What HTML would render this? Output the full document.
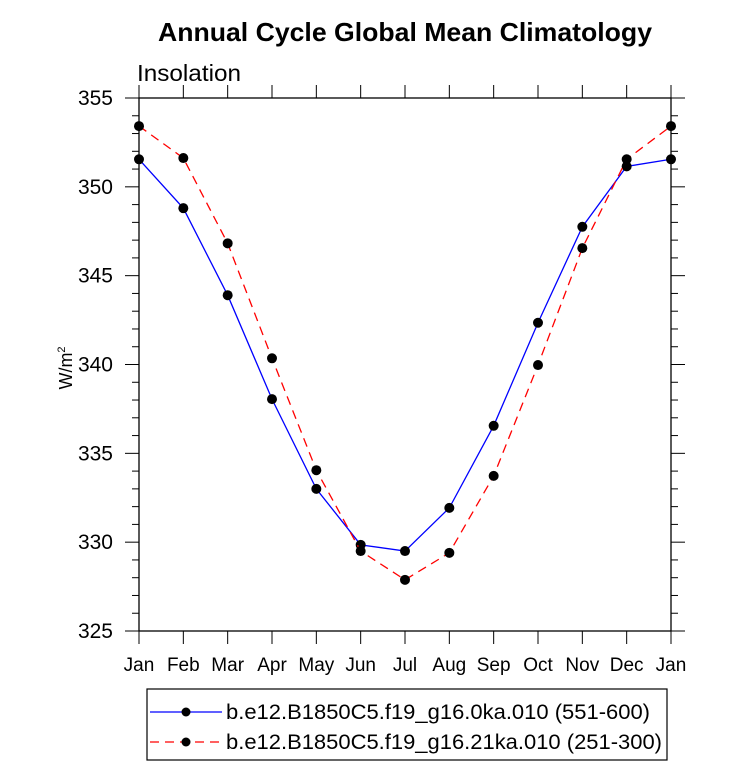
<!DOCTYPE html>
<html><head><meta charset="utf-8"><style>
body{margin:0;background:#fff;}
svg text{font-family:"Liberation Sans",Arial,sans-serif;}
</style></head><body>
<svg width="733" height="769" viewBox="0 0 733 769">
<text x="405" y="41" font-size="26" font-weight="bold" text-anchor="middle" textLength="494" lengthAdjust="spacingAndGlyphs">Annual Cycle Global Mean Climatology</text>
<text x="137" y="81" font-size="23" textLength="104" lengthAdjust="spacingAndGlyphs">Insolation</text>
<text transform="translate(72,368) rotate(-90)" font-size="18" text-anchor="middle">W/m<tspan font-size="11" dy="-7">2</tspan></text>
<g id="axes"></g>
<g id="series"></g>
<g>
<rect x="147" y="689" width="520" height="71" fill="#fff" stroke="#000" stroke-width="1.2"/>
<g>
<line x1="150" y1="712" x2="222" y2="712" stroke="#00f" stroke-width="1.3"/>
<circle cx="186" cy="712" r="4.5" fill="#000"/>
<text x="226" y="719" font-size="21" textLength="424" lengthAdjust="spacingAndGlyphs">b.e12.B1850C5.f19_g16.0ka.010 (551-600)</text>
</g>
<g>
<line x1="150" y1="742" x2="222" y2="742" stroke="#f00" stroke-width="1.3" stroke-dasharray="9,6"/>
<circle cx="186" cy="742" r="4.5" fill="#000"/>
<text x="226" y="749" font-size="21" textLength="436" lengthAdjust="spacingAndGlyphs">b.e12.B1850C5.f19_g16.21ka.010 (251-300)</text>
</g>
</g>
</svg>
<script>
const months=["Jan","Feb","Mar","Apr","May","Jun","Jul","Aug","Sep","Oct","Nov","Dec","Jan"];
const blueValues=[351.55,348.8,343.9,338.05,333.0,329.85,329.5,331.93,336.55,342.35,347.75,351.15,351.55];
const redValues=[353.42,351.62,346.82,340.35,334.05,329.5,327.88,329.4,333.73,339.97,346.55,351.55,353.42];
const yTicks=[325,330,335,340,345,350,355];
const L=139,R=671,T=98,B=631,ymin=325,ymax=355;
const NS="http://www.w3.org/2000/svg";
function X(i){return L+i*(R-L)/(months.length-1);}
function Y(v){return B-(v-ymin)/(ymax-ymin)*(B-T);}
function mk(tag,attrs,parent){const e=document.createElementNS(NS,tag);for(const k in attrs)e.setAttribute(k,attrs[k]);parent.appendChild(e);return e;}
const ax=document.getElementById('axes');
const fr=mk('rect',{x:L,y:T,width:R-L,height:B-T,fill:'none',stroke:'#000','stroke-width':1.3},ax);


for(let v=ymin;v<=ymax;v++){
  const major=(v%5===0);const len=major?14:7;const y=Y(v);
  mk('line',{x1:L-len,y1:y,x2:L,y2:y,stroke:'#000','stroke-width':1},ax);
  mk('line',{x1:R,y1:y,x2:R+len,y2:y,stroke:'#000','stroke-width':1},ax);
}
yTicks.forEach(v=>{
  const t=mk('text',{x:L-26,y:Y(v)+7,'font-size':21,'text-anchor':'end'},ax);t.textContent=v;
  
  
});
months.forEach((m,i)=>{
  const x=X(i);
  mk('line',{x1:x,y1:B,x2:x,y2:B+13,stroke:'#000','stroke-width':1},ax);
  mk('line',{x1:x,y1:T-13,x2:x,y2:T,stroke:'#000','stroke-width':1},ax);
  const t=mk('text',{x:x,y:B+40,'font-size':19,'text-anchor':'middle'},ax);t.textContent=m;
  
  
});
const sg=document.getElementById('series');
function draw(vals,color,dash,name){
  const pts=vals.map((v,i)=>X(i)+','+Y(v)).join(' ');
  const pl=mk('polyline',{points:pts,fill:'none',stroke:color,'stroke-width':1.3,'stroke-dasharray':dash},sg);
  
  
  vals.forEach((v,i)=>{
    const c=mk('circle',{cx:X(i),cy:Y(v),r:5,fill:'#000'},sg);
    
    
  });
}
draw(blueValues,'#00f','none','blue-series');
draw(redValues,'#f00','9,6','red-series');
</script>
</body></html>
